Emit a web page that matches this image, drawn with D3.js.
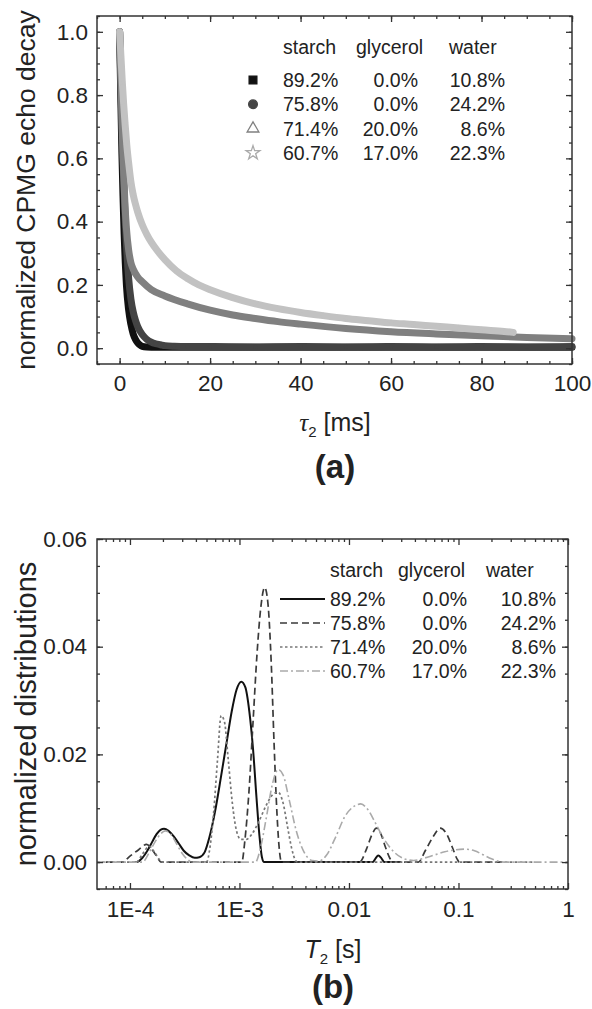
<!DOCTYPE html>
<html>
<head>
<meta charset="utf-8">
<script src="https://cdn.jsdelivr.net/npm/d3@7"></script>
<style>
  body { margin: 0; background: #fff; }
  text { font-family: "Liberation Sans", Arial, sans-serif; fill: #222; }
</style>
</head>
<body>
<div id="chart"></div>
<script>
// composition table shown in both legends
const starchPct = ["89.2%", "75.8%", "71.4%", "60.7%"];
const glycerolPct = ["0.0%", "0.0%", "20.0%", "17.0%"];
const waterPct = ["10.8%", "24.2%", "8.6%", "22.3%"];

// (a) CPMG echo decays, [tau2 ms, normalized amplitude]
const decay1 = [[0,1.0],[0.25,0.80],[0.5,0.62],[0.75,0.48],[1.0,0.36],[1.25,0.27],[1.5,0.20],[2.0,0.12],[2.5,0.075],[3.0,0.045],[3.5,0.028],[4.0,0.017],[4.5,0.010],[5,0.006],[6,0.004],[8,0.003],[10,0.003],[20,0.003],[40,0.003],[60,0.003],[80,0.003],[100,0.003]];
const decay2 = [[0,1.0],[0.3,0.82],[0.6,0.66],[0.9,0.53],[1.2,0.42],[1.5,0.33],[2.0,0.22],[2.5,0.155],[3.0,0.115],[3.5,0.088],[4.0,0.068],[5,0.043],[6,0.028],[7,0.019],[8,0.014],[9,0.011],[10,0.008],[12,0.006],[15,0.005],[20,0.005],[30,0.004],[40,0.005],[50,0.004],[60,0.005],[70,0.004],[80,0.005],[90,0.004],[100,0.005]];
const decay3 = [[0,1.0],[0.3,0.85],[0.6,0.68],[0.9,0.55],[1.2,0.45],[1.5,0.38],[2.0,0.31],[2.5,0.27],[3.0,0.25],[4,0.225],[5,0.21],[7,0.185],[10,0.165],[15,0.14],[20,0.12],[25,0.105],[30,0.094],[35,0.084],[40,0.076],[50,0.062],[60,0.052],[70,0.045],[80,0.039],[90,0.034],[100,0.030]];
const decay4 = [[0,1.0],[0.3,0.92],[0.6,0.84],[0.9,0.77],[1.2,0.71],[1.6,0.64],[2.0,0.585],[2.5,0.525],[3.0,0.485],[3.5,0.455],[4.0,0.43],[5,0.39],[6,0.36],[7,0.335],[8.5,0.305],[10,0.28],[12.5,0.245],[15,0.22],[17.5,0.20],[20,0.185],[25,0.16],[30,0.14],[35,0.125],[40,0.113],[45,0.103],[50,0.094],[55,0.087],[60,0.080],[65,0.075],[70,0.069],[75,0.064],[80,0.058],[85,0.053],[87,0.050]];

// (b) T2 distributions, [T2 s, normalized value]
const dist1 = [[1.1e-4,0],[1.15e-4,0],[1.3e-4,0.0008],[1.45e-4,0.0022],[1.6e-4,0.0038],[1.75e-4,0.0052],[1.9e-4,0.006],[2.05e-4,0.0062],[2.25e-4,0.0058],[2.5e-4,0.0048],[2.8e-4,0.0034],[3.1e-4,0.0021],[3.5e-4,0.0012],[3.9e-4,0.0008],[4.3e-4,0.0009],[4.8e-4,0.0018],[5.3e-4,0.0045],[6e-4,0.0095],[6.8e-4,0.016],[7.6e-4,0.022],[8.5e-4,0.028],[9.4e-4,0.032],[1.04e-3,0.0335],[1.13e-3,0.0325],[1.23e-3,0.028],[1.33e-3,0.021],[1.43e-3,0.012],[1.52e-3,0.005],[1.6e-3,0.001],[1.68e-3,0],[0.0165,0],[0.0175,0.0007],[0.0185,0.0012],[0.0198,0.0007],[0.021,0],[0.03,0]];
const dist2 = [[6e-5,0],[8.5e-5,0],[1.0e-4,0.0011],[1.2e-4,0.0023],[1.42e-4,0.0033],[1.62e-4,0.0021],[1.8e-4,0.0007],[1.92e-4,0],[1.05e-3,0],[1.12e-3,0.004],[1.22e-3,0.013],[1.33e-3,0.026],[1.45e-3,0.039],[1.57e-3,0.0475],[1.7e-3,0.051],[1.82e-3,0.048],[1.95e-3,0.037],[2.07e-3,0.022],[2.2e-3,0.009],[2.32e-3,0.002],[2.42e-3,0],[0.0125,0],[0.0145,0.0025],[0.0163,0.0052],[0.0178,0.0063],[0.0195,0.0053],[0.0215,0.0028],[0.0235,0.0008],[0.025,0],[0.043,0],[0.05,0.0022],[0.059,0.0048],[0.068,0.0063],[0.078,0.0052],[0.088,0.0027],[0.097,0.0006],[0.102,0],[0.25,0]];
const dist3 = [[5e-5,0],[1.15e-4,0],[1.3e-4,0.0015],[1.5e-4,0.0029],[1.68e-4,0.0018],[1.85e-4,0.0005],[1.95e-4,0],[5e-4,0],[5.4e-4,0.003],[5.8e-4,0.009],[6.3e-4,0.019],[6.8e-4,0.0272],[7.3e-4,0.026],[7.9e-4,0.019],[8.6e-4,0.011],[9.4e-4,0.0058],[1.03e-3,0.0042],[1.15e-3,0.0042],[1.3e-3,0.0052],[1.5e-3,0.0075],[1.75e-3,0.0105],[2.0e-3,0.0125],[2.25e-3,0.013],[2.5e-3,0.011],[2.75e-3,0.0065],[3.0e-3,0.0025],[3.25e-3,0.0003],[3.4e-3,0],[0.5,0]];
const dist4 = [[5e-5,0],[1.3e-4,0],[1.5e-4,0.0018],[1.7e-4,0.0038],[1.9e-4,0.0052],[2.1e-4,0.0058],[2.35e-4,0.0052],[2.65e-4,0.0035],[3.0e-4,0.0016],[3.4e-4,0.0004],[3.7e-4,0],[1.4e-3,0],[1.55e-3,0.0025],[1.75e-3,0.008],[2.0e-3,0.0145],[2.25e-3,0.0172],[2.5e-3,0.0162],[2.85e-3,0.0115],[3.3e-3,0.0058],[3.9e-3,0.0018],[4.6e-3,0.0003],[5.3e-3,0.0002],[6.2e-3,0.0012],[7.5e-3,0.0045],[9.2e-3,0.0085],[0.0112,0.0104],[0.0128,0.0108],[0.0148,0.0098],[0.0175,0.0072],[0.021,0.0042],[0.026,0.0018],[0.032,0.0006],[0.039,0.0003],[0.048,0.0007],[0.06,0.0013],[0.075,0.0019],[0.095,0.0023],[0.115,0.0024],[0.14,0.0021],[0.17,0.0013],[0.2,0.0006],[0.24,0.0001],[0.26,0],[1,0]];

const xTicksA = [0, 20, 40, 60, 80, 100];
const yTicksA = [0, 0.2, 0.4, 0.6, 0.8, 1.0];
const xTicksB = [1e-4, 1e-3, 0.01, 0.1, 1];
const xTickLabelsB = ["1E-4", "1E-3", "0.01", "0.1", "1"];
const yTicksB = [0, 0.02, 0.04, 0.06];

const width = 592, height = 1009;
const svg = d3.select("#chart").append("svg")
  .attr("width", width).attr("height", height);

// draws a boxed frame with inward ticks on all four sides
function frame(g, x, y, xMajor, xMinor, yMajor, yMinor, xFmt, yFmt, padX, padY) {
  const [x0, x1] = x.range(), [y0, y1] = y.range();
  const ax = (axis, sc, vals, size, fmt, tr) => {
    const a = g.append("g").attr("transform", tr).attr("color", "#333")
      .call(axis(sc).tickValues(vals).tickSize(size).tickSizeOuter(0).tickFormat(fmt));
    a.select(".domain").remove();
    a.selectAll("line").attr("stroke-width", 1.3);
    return a;
  };
  const none = () => "";
  const bottom = ax(d3.axisBottom, x, xMajor, -6, xFmt, `translate(0,${y0})`);
  bottom.call(a => a.selectAll("text").attr("font-size", 22.5).attr("y", padX));
  ax(d3.axisBottom, x, xMinor, -3, none, `translate(0,${y0})`);
  ax(d3.axisTop, x, xMajor, -6, none, `translate(0,${y1})`);
  ax(d3.axisTop, x, xMinor, -3, none, `translate(0,${y1})`);
  const left = ax(d3.axisLeft, y, yMajor, -6, yFmt, `translate(${x0},0)`);
  left.call(a => a.selectAll("text").attr("font-size", 22.5).attr("x", -padY));
  ax(d3.axisLeft, y, yMinor, -3, none, `translate(${x0},0)`);
  ax(d3.axisRight, y, yMajor, -6, none, `translate(${x1},0)`);
  ax(d3.axisRight, y, yMinor, -3, none, `translate(${x1},0)`);
  g.append("rect")
    .attr("x", x0).attr("y", y1).attr("width", x1 - x0).attr("height", y0 - y1)
    .attr("fill", "none").attr("stroke", "#333").attr("stroke-width", 1.5);
  g.selectAll(".tick text").attr("fill", "#222");
}

// ---------- panel (a) ----------
const xa = d3.scaleLinear([-5, 100], [97, 572]);
const ya = d3.scaleLinear([-0.05, 1.05], [364, 16]);
const gA = svg.append("g");

const decays = [decay1, decay2, decay3, decay4];
const decayColors = ["#111", "#444", "#808080", "#c2c2c2"];
const decaySymbols = [d3.symbolSquare, d3.symbolCircle, d3.symbolTriangle, d3.symbolStar];
const decayFilled = [true, true, false, false];

const lineA = d3.line().x(d => xa(d[0])).y(d => ya(d[1])).curve(d3.curveMonotoneX);
decays.forEach((data, i) => {
  gA.append("path")
    .attr("d", lineA(data))
    .attr("fill", "none")
    .attr("stroke", decayColors[i])
    .attr("stroke-width", 7)
    .attr("stroke-linecap", "round")
    .attr("stroke-linejoin", "round");
  // dense markers sit inside the band, as in the original scatter
  gA.selectAll(`.pt${i}`)
    .data(data)
    .join("path")
      .attr("class", `pt${i}`)
      .attr("transform", d => `translate(${xa(d[0])},${ya(d[1])})`)
      .attr("d", d3.symbol(decaySymbols[i], 14))
      .attr("fill", decayColors[i])
      .attr("stroke", "none");
});

frame(gA, xa, ya, xTicksA, d3.range(-5, 101, 5), yTicksA, d3.range(-0.05, 1.06, 0.05),
  d3.format("d"), d3.format(".1f"), 11, 9);

// legend (a)
const legA = gA.append("g");
legA.append("text").attr("x", 283).attr("y", 54).attr("font-size", 19.5).text("starch");
legA.append("text").attr("x", 356).attr("y", 54).attr("font-size", 19.5).text("glycerol");
legA.append("text").attr("x", 449).attr("y", 54).attr("font-size", 19.5).text("water");
starchPct.forEach((s, i) => {
  const cy = 80 + i * 24.3;
  legA.append("path")
    .attr("transform", `translate(253,${cy})`)
    .attr("d", d3.symbol(decaySymbols[i], 60))
    .attr("fill", decayFilled[i] ? decayColors[i] : "#fff")
    .attr("stroke", i === 3 ? "#aaa" : decayColors[i])
    .attr("stroke-width", 1.3);
  legA.append("text").attr("x", 283).attr("y", cy + 7).attr("font-size", 19.5).text(s);
  legA.append("text").attr("x", 418).attr("y", cy + 7).attr("font-size", 19.5)
    .attr("text-anchor", "end").text(glycerolPct[i]);
  legA.append("text").attr("x", 505).attr("y", cy + 7).attr("font-size", 19.5)
    .attr("text-anchor", "end").text(waterPct[i]);
});

// titles (a)
gA.append("text")
  .attr("transform", "translate(35,190) rotate(-90)")
  .attr("text-anchor", "middle").attr("font-size", 26.5)
  .text("normalized CPMG echo decay");
const xtA = gA.append("text").attr("x", 335).attr("y", 431)
  .attr("text-anchor", "middle").attr("font-size", 25);
xtA.append("tspan").attr("font-style", "italic")
  .attr("font-family", "'Liberation Serif', serif").text("τ");
xtA.append("tspan").attr("font-size", 15).attr("dy", 6).text("2");
xtA.append("tspan").attr("dy", -6).text(" [ms]");
gA.append("text").attr("x", 335).attr("y", 478)
  .attr("text-anchor", "middle").attr("font-size", 33).attr("font-weight", "bold")
  .text("(a)");

// ---------- panel (b) ----------
const xb = d3.scaleLog([5e-5, 1], [97, 568]);
const yb = d3.scaleLinear([-0.005, 0.06], [889, 539]);
const gB = svg.append("g");

const dists = [dist1, dist2, dist3, dist4];
const distColors = ["#111", "#3a3a3a", "#777", "#aaa"];
const distDash = [null, "7,4", "2.5,2.5", "8,3,2,3"];
const distWidth = [2, 1.7, 1.7, 1.6];

const lineB = d3.line().x(d => xb(d[0])).y(d => yb(d[1])).curve(d3.curveMonotoneX);
dists.forEach((data, i) => {
  gB.append("path")
    .attr("d", lineB(data))
    .attr("fill", "none")
    .attr("stroke", distColors[i])
    .attr("stroke-width", distWidth[i])
    .attr("stroke-dasharray", distDash[i]);
});

const logMinor = [];
[1e-5, 1e-4, 1e-3, 1e-2, 1e-1].forEach(dec => {
  for (let k = 2; k <= 9; k++) {
    const v = dec * k;
    if (v > 5e-5 && v < 1) logMinor.push(v);
  }
});
frame(gB, xb, yb, xTicksB, logMinor, yTicksB, d3.range(-0.005, 0.0601, 0.005),
  (d, i) => xTickLabelsB[i], d3.format(".2f"), 12, 10);

// legend (b)
const legB = gB.append("g");
legB.append("text").attr("x", 330).attr("y", 577).attr("font-size", 19.5).text("starch");
legB.append("text").attr("x", 398).attr("y", 577).attr("font-size", 19.5).text("glycerol");
legB.append("text").attr("x", 486).attr("y", 577).attr("font-size", 19.5).text("water");
starchPct.forEach((s, i) => {
  const cy = 599 + i * 24;
  legB.append("line")
    .attr("x1", 280).attr("x2", 325).attr("y1", cy).attr("y2", cy)
    .attr("stroke", distColors[i]).attr("stroke-width", distWidth[i])
    .attr("stroke-dasharray", distDash[i]);
  legB.append("text").attr("x", 330).attr("y", cy + 7).attr("font-size", 19.5).text(s);
  legB.append("text").attr("x", 467).attr("y", cy + 7).attr("font-size", 19.5)
    .attr("text-anchor", "end").text(glycerolPct[i]);
  legB.append("text").attr("x", 556).attr("y", cy + 7).attr("font-size", 19.5)
    .attr("text-anchor", "end").text(waterPct[i]);
});

// titles (b)
gB.append("text")
  .attr("transform", "translate(36,714) rotate(-90)")
  .attr("text-anchor", "middle").attr("font-size", 29)
  .text("normalized distributions");
const xtB = gB.append("text").attr("x", 333).attr("y", 958)
  .attr("text-anchor", "middle").attr("font-size", 25);
xtB.append("tspan").attr("font-style", "italic").text("T");
xtB.append("tspan").attr("font-size", 15).attr("dy", 6).text("2");
xtB.append("tspan").attr("dy", -6).text(" [s]");
gB.append("text").attr("x", 333).attr("y", 998)
  .attr("text-anchor", "middle").attr("font-size", 33).attr("font-weight", "bold")
  .text("(b)");
</script>
</body>
</html>
